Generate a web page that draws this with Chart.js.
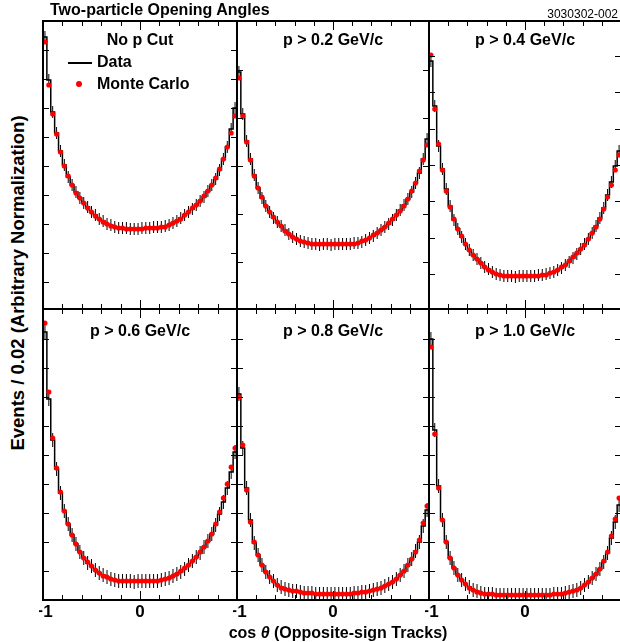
<!DOCTYPE html>
<html>
<head>
<meta charset="utf-8">
<script src="https://cdn.jsdelivr.net/npm/chart.js@4.4.1/dist/chart.umd.min.js"></script>
<style>
  body { margin: 0; width: 620px; height: 642px; overflow: hidden; background: #fff; position: relative;
         font-family: "Liberation Sans", Arial, sans-serif; font-weight: bold; color: #000; }
  canvas { position: absolute; }
  .t { position: absolute; white-space: nowrap; line-height: 1; }
</style>
</head>
<body>
<script>
// 50 bins of cos(theta) from -1 to 1
const nBins = 50;
const binLo = -1, binHi = 1;

const panelLabels = ["No p Cut", "p > 0.2 GeV/c", "p > 0.4 GeV/c",
                     "p > 0.6 GeV/c", "p > 0.8 GeV/c", "p > 1.0 GeV/c"];

// Data histograms (arbitrary normalization)
const data1 = [272,229,197,176,158,144,132,124,117,111, 106,102,97,94,90,88,85,84,82,81,
               81,81,80,80,80,81,81,81,82,82, 82,83,84,86,88,91,94,97,100,104,
               108,112,118,124,130,139,150,162,180,201];
const data2 = [237,195,168,150,134,121,111,103,97,91, 87,83,79,75,72,70,68,67,66,65,
               65,64,65,65,64,65,65,65,65,65, 66,66,67,69,71,73,76,79,82,85,
               89,94,99,104,110,117,126,136,150,170];
const data3 = [248,203,163,140,120,103,89,80,72,65, 59,54,50,46,42,40,37,35,34,33,
               33,33,32,33,33,33,33,33,34,34, 35,36,37,39,41,44,47,51,55,60,
               65,70,76,83,91,101,114,127,143,158];
const data4 = [268,201,160,131,107,89,76,65,56,48, 42,37,34,30,27,25,23,21,20,19,
               19,19,19,18,19,19,19,19,19,19, 20,21,22,24,26,28,31,35,39,43,
               47,53,59,66,75,86,98,112,128,148];
const data5 = [206,152,112,80,57,45,35,28,23,19, 15,13,11,10,9,9,8,7,7,7,
               6,6,6,6,6,6,6,6,6,6, 7,7,8,8,9,10,11,12,14,16,
               18,21,25,29,35,41,49,58,74,90];
const data6 = [261,170,114,80,58,42,32,25,20,16, 13,10,9,7,6,6,6,5,5,5,
               5,5,5,5,5,5,5,5,5,5, 5,5,6,6,6,7,8,9,10,12,
               15,18,22,26,31,38,47,62,78,95];

// Monte Carlo points
const mc1 = [267,224,195,175,157,143,133,124,116,111, 106,101,97,93,90,87,85,83,82,81,
             81,80,80,80,80,80,81,81,81,81, 82,82,84,86,88,90,94,97,101,104,
             108,113,118,124,131,140,150,162,176,193];
const mc2 = [231,193,167,149,133,121,112,103,97,92, 87,83,78,75,72,70,68,67,66,65,
             65,65,65,65,65,65,65,65,65,65, 65,66,68,69,71,74,76,79,82,86,
             90,94,98,103,110,118,126,138,149,164];
const mc3 = [254,200,165,139,118,102,90,80,73,65, 59,54,50,46,42,39,37,35,34,33,
             33,33,33,33,33,33,33,33,33,34, 34,36,37,39,42,44,48,52,56,60,
             64,70,76,82,90,100,112,124,139,154];
const mc4 = [277,208,162,132,108,89,76,65,56,48, 42,38,34,30,27,24,23,21,20,19,
             19,19,19,19,19,19,19,19,19,19, 20,21,22,24,26,29,32,35,39,43,
             48,53,59,66,76,88,102,116,133,152];
const mc5 = [203,155,110,78,58,45,35,28,23,19, 15,12,11,10,9,9,8,7,7,7,
             6,6,6,6,6,6,6,6,6,6, 7,7,8,8,9,10,11,12,14,16,
             18,21,25,29,35,41,48,60,77,94];
const mc6 = [253,166,112,80,58,42,32,25,20,16, 12,10,8,7,6,6,6,5,5,5,
             5,5,5,5,5,5,5,5,5,5, 5,5,6,6,6,7,8,9,10,12,
             15,18,22,26,31,39,48,64,81,102];

const dataSets = [data1, data2, data3, data4, data5, data6];
const mcSets = [mc1, mc2, mc3, mc4, mc5, mc6];
const dataErr = [6, 6, 6, 7, 7, 7];

// axis ticks
const xTicks = [-1, -0.8, -0.6, -0.4, -0.2, 0, 0.2, 0.4, 0.6, 0.8, 1];
const xMajor = [0];
const xLabelVals = [-1, 0];
const xLabelText = ["\u22121", "0"];
const yTickStart = [27, 47, 35, 29, 29, 29];
const yTickStep = [29, 48, 36.3, 29, 29, 29];

// layout
const cols = [[43, 237], [237, 429], [429, 621]];
const rows = [[21, 309], [309, 600]];
const pad = 4;

const binW = (binHi - binLo) / nBins;
const centers = [], edges = [];
for (let i = 0; i <= nBins; i++) edges.push(binLo + i * binW);
for (let i = 0; i < nBins; i++) centers.push(binLo + (i + 0.5) * binW);

const panelPlugin = {
  id: "panel",
  beforeDatasetsDraw(chart, args, opts) {
    const ctx = chart.ctx, x = chart.scales.x, y = chart.scales.y;
    const vals = dataSets[opts.idx], e = dataErr[opts.idx];
    ctx.save();
    ctx.beginPath();
    ctx.rect(chart.chartArea.left, chart.chartArea.top, chart.chartArea.width, chart.chartArea.height);
    ctx.clip();
    ctx.strokeStyle = "#000";
    ctx.lineWidth = 1;
    ctx.beginPath();
    vals.forEach((v, i) => {
      const px = x.getPixelForValue(centers[i]);
      ctx.moveTo(px, y.getPixelForValue(v - e));
      ctx.lineTo(px, y.getPixelForValue(v + e));
    });
    ctx.stroke();
    ctx.restore();
  },
  afterDraw(chart, args, opts) {
    const ctx = chart.ctx, x = chart.scales.x, y = chart.scales.y;
    const { left, right, top, bottom } = chart.chartArea;
    const p = opts.idx;
    ctx.save();
    ctx.strokeStyle = "#000";
    ctx.lineWidth = 1;
    ctx.beginPath();
    xTicks.forEach(v => {
      const px = Math.round(x.getPixelForValue(v)) + 0.5;
      const len = xMajor.includes(v) ? 9 : 5;
      ctx.moveTo(px, top); ctx.lineTo(px, top + len);
      ctx.moveTo(px, bottom); ctx.lineTo(px, bottom - len);
    });
    for (let v = yTickStart[p]; v < y.max - 3; v += yTickStep[p]) {
      const py = Math.round(y.getPixelForValue(v)) + 0.5;
      ctx.moveTo(left, py); ctx.lineTo(left + 6, py);
      ctx.moveTo(right, py); ctx.lineTo(right - 6, py);
    }
    ctx.stroke();
    ctx.lineWidth = 2;
    ctx.strokeRect(left, top, right - left, bottom - top);
    if (p >= 3) {
      ctx.fillStyle = "#000";
      ctx.font = "bold 17px 'Liberation Sans', Arial, sans-serif";
      ctx.textAlign = "center";
      ctx.textBaseline = "alphabetic";
      xLabelVals.forEach((v, i) => {
        ctx.fillText(xLabelText[i], x.getPixelForValue(v), bottom + 17);
      });
    }
    ctx.restore();
  }
};

function addText(html, x, baseline, size, align, extra) {
  const d = document.createElement("div");
  d.className = "t";
  d.innerHTML = html;
  d.style.fontSize = size + "px";
  d.style.left = x + "px";
  d.style.top = (baseline - size * 0.8465) + "px";
  if (align === "center") d.style.transform = "translateX(-50%)";
  if (align === "right") d.style.transform = "translateX(-100%)";
  if (extra) Object.assign(d.style, extra);
  document.body.appendChild(d);
  return d;
}

for (let p = 0; p < 6; p++) {
  const c = cols[p % 3], r = rows[Math.floor(p / 3)];
  const extraBottom = p >= 3 ? 26 : 0;
  const cv = document.createElement("canvas");
  cv.width = c[1] - c[0] + 2 * pad;
  cv.height = r[1] - r[0] + 2 * pad + extraBottom;
  cv.style.left = (c[0] - pad) + "px";
  cv.style.top = (r[0] - pad) + "px";
  document.body.appendChild(cv);

  const hist = dataSets[p].map((v, i) => ({ x: edges[i], y: v }));
  hist.push({ x: edges[nBins], y: dataSets[p][nBins - 1] });
  const pts = mcSets[p].map((v, i) => ({ x: centers[i], y: v }));

  new Chart(cv, {
    type: "scatter",
    data: {
      datasets: [
        {
          label: "Monte Carlo",
          data: pts,
          showLine: false,
          pointRadius: 2.6,
          pointBackgroundColor: "#ff0000",
          pointBorderWidth: 0,
          order: 0,
        },
        {
          type: "line",
          label: "Data",
          data: hist,
          stepped: "before",
          borderColor: "#000",
          borderWidth: 1.5,
          pointRadius: 0,
          fill: false,
          order: 1,
        },
      ],
    },
    options: {
      responsive: false,
      animation: false,
      events: [],
      layout: { padding: { left: pad, right: pad, top: pad, bottom: pad + extraBottom } },
      plugins: { legend: { display: false }, tooltip: { enabled: false }, panel: { idx: p } },
      scales: {
        x: { type: "linear", min: binLo, max: binHi, display: false },
        y: { min: 0, max: r[1] - r[0], display: false },
      },
    },
    plugins: [panelPlugin],
  });

  addText(panelLabels[p], (c[0] + c[1]) / 2, p < 3 ? 46 : 337, 16, "center");
}

// titles
addText("Two-particle Opening Angles", 50, 16, 16, "left");
addText("3030302-002", 618, 18, 12, "right", { fontWeight: "normal" });
addText("cos <i>\u03b8</i> (Opposite-sign Tracks)", 338, 639, 16, "center");
const yt = addText("Events / 0.02 (Arbitrary Normalization)", 18, 0, 18.5, "left");
yt.style.top = "283px";
yt.style.transform = "translate(-50%, -50%) rotate(-90deg)";

// legend inside first panel
const ln = document.createElement("div");
Object.assign(ln.style, { position: "absolute", left: "68px", top: "61.5px", width: "24px", height: "2px", background: "#000" });
document.body.appendChild(ln);
const dot = document.createElement("div");
Object.assign(dot.style, { position: "absolute", left: "75.7px", top: "80.7px", width: "6.6px", height: "6.6px",
                           borderRadius: "50%", background: "#ff0000" });
document.body.appendChild(dot);
addText("Data", 97, 68, 16, "left");
addText("Monte Carlo", 97, 90, 16, "left");
</script>
</body>
</html>
